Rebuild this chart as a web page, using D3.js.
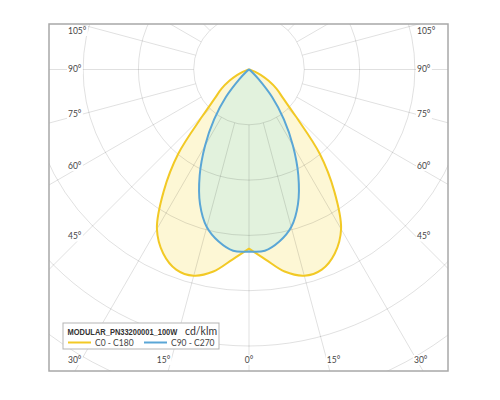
<!DOCTYPE html>
<html><head><meta charset="utf-8">
<script src="https://cdn.jsdelivr.net/npm/d3@7"></script>
<style>body{margin:0;background:#fff}svg{display:block}</style>
</head><body>
<svg id="chart" width="500" height="400"></svg>
<script>
// ---- data ----
const gammaAngles = [0,5,10,15,20,25,30,35,40,45,50,55,60,65,70,75,80,85,90];
const c0c180  = [324,345,371,386,385,367,333,269,199,119,80,61,41,24,11,4,0,0,0];
const c90c270 = [329,329,316,295,259,211,159,110,65,24,7,2,0,0,0,0,0,0,0];
const seriesNames = ["C0 - C180","C90 - C270"];
const title = "MODULAR_PN33200001_100W";
const unit = "cd/klm";
const ringValues = [100,200,300,400,500,600,700];
const sideTickAngles = [45,60,75,90,105];
const bottomTickAngles = [0,15,30];

// ---- layout ----
const svg = d3.select("#chart");
const frame = {x:49, y:24, w:399, h:347};
const cx = 249, cy = 69.5;
const r = d3.scaleLinear().domain([0,100]).range([0,55.3]);
const rad = d => d*Math.PI/180;

svg.append("defs").append("clipPath").attr("id","fc")
  .append("rect").attr("x",frame.x).attr("y",frame.y).attr("width",frame.w).attr("height",frame.h);

const g = svg.append("g").attr("clip-path","url(#fc)");
const c = g.append("g").attr("transform",`translate(${cx},${cy})`);

// curves: each half drawn smooth, joined with sharp apex and sharp point at 0°
const half = d3.lineRadial().angle(d=>d[0]).radius(d=>d[1]).curve(d3.curveCatmullRom.alpha(0.5));
function curvePath(vals){
  let last = vals.findIndex(v=>v===0);
  if (last < 0) last = vals.length-1;
  const idx = d3.range(0,last+1);
  const right = idx.map(i=>[Math.PI - rad(gammaAngles[i]), r(vals[i])]).reverse();
  const left = idx.map(i=>[Math.PI + rad(gammaAngles[i]), r(vals[i])]);
  return half(right) + half(left).replace(/^M/,"L") + "Z";
}

c.append("path").attr("d",curvePath(c0c180)).attr("fill","#fdf7d5").attr("stroke","none");
c.append("path").attr("d",curvePath(c90c270)).attr("fill","#e2f2dd").attr("stroke","none");

// grid
const grid = c.append("g").attr("stroke","#000").attr("stroke-opacity",0.12).attr("fill","none").attr("stroke-width",1);
ringValues.forEach(v=>grid.append("circle").attr("r",r(v)));
d3.range(0,360,15).forEach(a=>{
  const t = rad(a);
  grid.append("line")
    .attr("x1",Math.sin(t)*r(100)).attr("y1",Math.cos(t)*r(100))
    .attr("x2",Math.sin(t)*r(800)).attr("y2",Math.cos(t)*r(800));
});

// strokes
c.append("path").attr("d",curvePath(c0c180)).attr("fill","none").attr("stroke","#f2c925").attr("stroke-width",2).attr("stroke-linejoin","round");
c.append("path").attr("d",curvePath(c90c270)).attr("fill","none").attr("stroke","#5aa6d6").attr("stroke-width",2).attr("stroke-linejoin","round");

// frame
svg.append("rect").attr("x",frame.x).attr("y",frame.y).attr("width",frame.w).attr("height",frame.h)
  .attr("fill","none").attr("stroke","#a8a8a8").attr("stroke-width",1.5);

// tick labels
const lab = svg.append("g").attr("font-family","Lato, 'DejaVu Sans', sans-serif").attr("font-size",8.5).attr("fill","#444");
function addLabel(x,y,txt,anchor){
  const gg = lab.append("g");
  const t = gg.append("text").attr("x",x).attr("y",y).attr("dy","0.35em").attr("text-anchor",anchor).text(txt);
  const b = t.node().getBBox();
  gg.insert("rect","text").attr("x",b.x-1).attr("y",b.y).attr("width",b.width+2).attr("height",b.height).attr("fill","#fff");
}
const yBottom = 360, colL = 82;
sideTickAngles.forEach(a=>{
  const t = rad(a);
  let y = (a===90) ? cy : cy + (cx-colL)/Math.tan(t);
  y = Math.max(31, y);
  addLabel(68, y, a+"°", "start");
  addLabel(417, y, a+"°", "start");
});
bottomTickAngles.forEach(a=>{
  const dx = (yBottom-cy)*Math.tan(rad(a));
  if (a===30){
    addLabel(68, yBottom, a+"°", "start");
    addLabel(414, yBottom, a+"°", "start");
  } else if (a===0){
    addLabel(cx, yBottom, a+"°", "middle");
  } else {
    addLabel(cx-dx-1, yBottom, a+"°", "end");
    addLabel(cx+dx, yBottom, a+"°", "start");
  }
});

// legend
const lg = svg.append("g");
lg.append("rect").attr("x",63).attr("y",323).attr("width",156).attr("height",26)
  .attr("fill","#fff").attr("stroke","#b5b5b5").attr("stroke-width",1);
const tg = lg.append("g");
const tt = tg.append("text").attr("x",0).attr("y",0).attr("font-family","'Liberation Sans Narrow','Liberation Sans',sans-serif")
  .attr("font-size",9).attr("font-weight","bold").attr("fill","#333").text(title);
const natural = tt.node().getComputedTextLength();
tg.attr("transform",`translate(67.5,334.5) scale(${Math.min(1,110/natural)},1)`);
lg.append("text").attr("x",185).attr("y",334.5).attr("font-family","Lato, sans-serif")
  .attr("font-size",10.5).attr("fill","#333").text(unit);
const colors = ["#f2c925","#5aa6d6"];
const itemX = [68,144];
seriesNames.forEach((n,i)=>{
  lg.append("line").attr("x1",itemX[i]).attr("x2",itemX[i]+23).attr("y1",342.5).attr("y2",342.5)
    .attr("stroke",colors[i]).attr("stroke-width",2);
  lg.append("text").attr("x",itemX[i]+27).attr("y",345.5).attr("font-family","Lato, 'DejaVu Sans', sans-serif")
    .attr("font-size",8.5).attr("fill","#444").text(n);
});
</script>
</body></html>
